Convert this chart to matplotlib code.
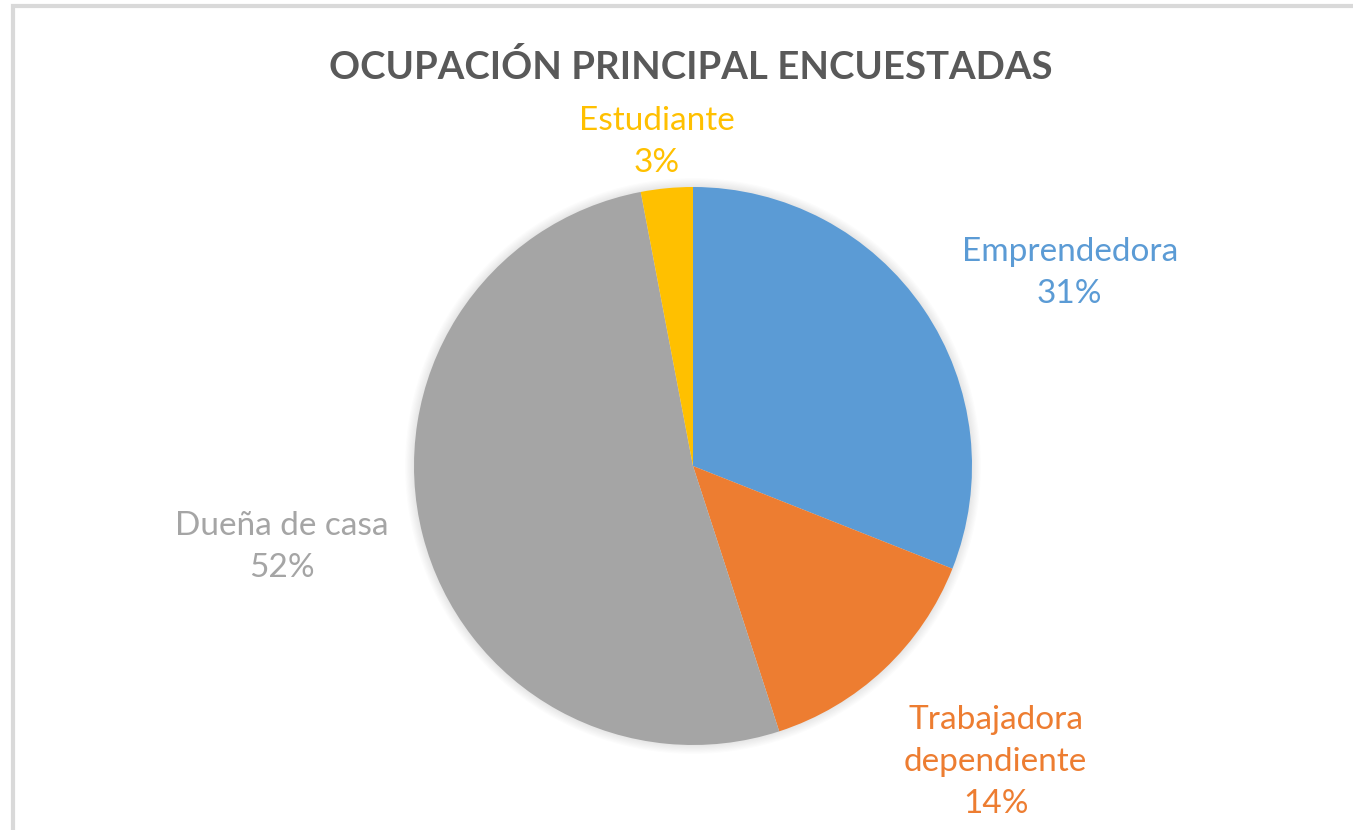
import matplotlib.pyplot as plt
from matplotlib.patches import Rectangle, Circle

categorias = ['Emprendedora', 'Trabajadora\ndependiente', 'Dueña de casa', 'Estudiante']
porcentajes = [31, 14, 52, 3]
colores = ['#5B9BD5', '#ED7D31', '#A5A5A5', '#FFC000']
titulo = 'OCUPACIÓN PRINCIPAL ENCUESTADAS'

W, H = 1353, 830
fig = plt.figure(figsize=(W / 100, H / 100), dpi=100)
fig.patch.set_facecolor('white')

# borde del gráfico (sale por la derecha y abajo)
fig.patches.append(Rectangle((12.5 / W, -0.1), 1.2, 1 - 6.5 / H + 0.1, transform=fig.transFigure,
                             fill=False, edgecolor='#D9D9D9', linewidth=3))

cx, cy, r = 693, 466, 279
ax = fig.add_axes([(cx - r) / W, (H - cy - r) / H, 2 * r / W, 2 * r / H])

wedges, _ = ax.pie(porcentajes, colors=colores, startangle=90, counterclock=False,
                   radius=1, wedgeprops=dict(linewidth=0))
for w in wedges:
    w.set_zorder(2)
ax.set_xlim(-1, 1)
ax.set_ylim(-1, 1)
ax.set_aspect('equal')
ax.axis('off')

# sombra suave
for i in range(8):
    ax.add_patch(Circle((0, 0), 1 + 0.004 * (i + 1), color='black', alpha=0.012, zorder=0,
                        lw=0, clip_on=False))

fuente = 'Lato'
pos = [(1.35, 0.69), (1.085, -1.06), (-1.475, -0.29), (-0.13, 1.163)]
for (x, y), cat, p, c in zip(pos, categorias, porcentajes, colores):
    ax.text(x, y, f'{cat}\n{p}%', ha='center', va='center', color=c, fontsize=24,
            family=fuente, linespacing=1.5, clip_on=False)

fig.text(691 / W, 1 - 67 / H, titulo, ha='center', va='center', fontsize=27.6,
         fontweight='bold', color='#595959', family=fuente)

fig.savefig('out.png', dpi=100)
